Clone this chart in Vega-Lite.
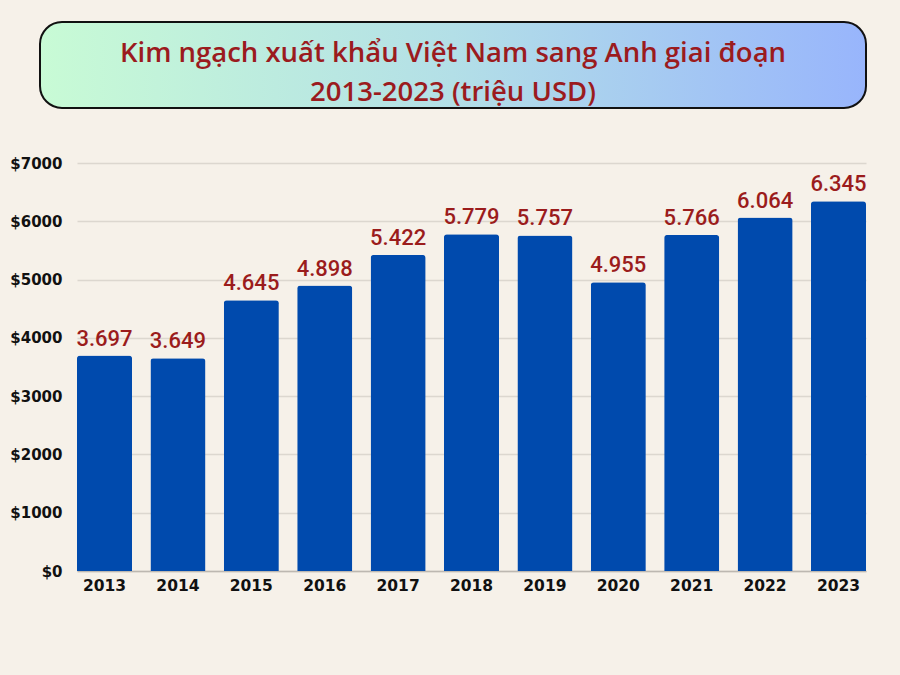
{
  "$schema": "https://vega.github.io/schema/vega-lite/v6.json",
  "description": "Kim ngạch xuất khẩu Việt Nam sang Anh 2013-2023",
  "background": "#f6f1e9",
  "padding": {"left": 9, "top": 21, "right": 34, "bottom": 83},
  "bounds": "full",
  "spacing": 47,
  "config": {
    "view": {"stroke": null},
    "locale": {
      "number": {"decimal": ",", "thousands": ".", "grouping": [3], "currency": ["$", ""]}
    }
  },
  "vconcat": [
    {
      "width": 826,
      "height": 86,
      "view": {
        "fill": {
          "gradient": "linear",
          "x1": 0, "y1": 0, "x2": 1, "y2": 0,
          "stops": [
            {"offset": 0, "color": "#c8fbd5"},
            {"offset": 0.5, "color": "#b3dfe7"},
            {"offset": 1, "color": "#98b5fc"}
          ]
        },
        "stroke": "#111111",
        "strokeWidth": 2,
        "cornerRadius": 22
      },
      "data": {
        "values": [
          {"k": "t", "title": "Kim ngạch xuất khẩu Việt Nam sang Anh giai đoạn\n2013-2023 (triệu USD)"}
        ]
      },
      "mark": {
        "type": "text",
        "font": "Open Sans",
        "fontWeight": 600,
        "fontSize": 27.5,
        "color": "#9b1b1e",
        "lineHeight": 39,
        "lineBreak": "\n",
        "align": "center",
        "baseline": "alphabetic",
        "dy": -3
      },
      "encoding": {
        "y": {"field": "k", "type": "nominal", "axis": null},
        "text": {"field": "title", "type": "nominal"}
      }
    },
    {
      "width": 826,
      "height": 408,
      "data": {
        "values": [
          {"year": "2013", "value": 3697},
          {"year": "2014", "value": 3649},
          {"year": "2015", "value": 4645},
          {"year": "2016", "value": 4898},
          {"year": "2017", "value": 5422},
          {"year": "2018", "value": 5779},
          {"year": "2019", "value": 5757},
          {"year": "2020", "value": 4955},
          {"year": "2021", "value": 5766},
          {"year": "2022", "value": 6064},
          {"year": "2023", "value": 6345}
        ]
      },
      "encoding": {
        "x": {
          "field": "year",
          "type": "ordinal",
          "scale": {"paddingInner": 0.25, "paddingOuter": 0, "range": [37, 826]},
          "axis": {
            "title": null,
            "labelAngle": 0,
            "labelFont": "DejaVu Sans",
            "labelFontWeight": "bold",
            "labelFontSize": 15.5,
            "labelColor": "#111111",
            "labelPadding": 7,
            "ticks": false,
            "grid": false,
            "domainColor": "#bdb8b1",
            "domainWidth": 1.5
          }
        },
        "y": {
          "field": "value",
          "type": "quantitative",
          "scale": {"domain": [0, 7000]},
          "axis": {
            "title": null,
            "offset": -37,
            "values": [0, 1000, 2000, 3000, 4000, 5000, 6000, 7000],
            "format": "$d",
            "labelFont": "DejaVu Sans",
            "labelFontWeight": "bold",
            "labelFontSize": 15,
            "labelColor": "#111111",
            "labelPadding": 15,
            "ticks": false,
            "domain": false,
            "gridColor": "#dcd7cf",
            "gridWidth": 1.5
          }
        }
      },
      "layer": [
        {
          "mark": {
            "type": "bar",
            "color": "#004aad",
            "cornerRadiusTopLeft": 3,
            "cornerRadiusTopRight": 3
          }
        },
        {
          "mark": {
            "type": "text",
            "baseline": "alphabetic",
            "dy": -10,
            "font": "Roboto",
            "fontWeight": 500,
            "fontSize": 22,
            "color": "#9b1c1c"
          },
          "encoding": {
            "text": {"field": "value", "type": "quantitative", "format": ",d"}
          }
        }
      ]
    }
  ]
}
